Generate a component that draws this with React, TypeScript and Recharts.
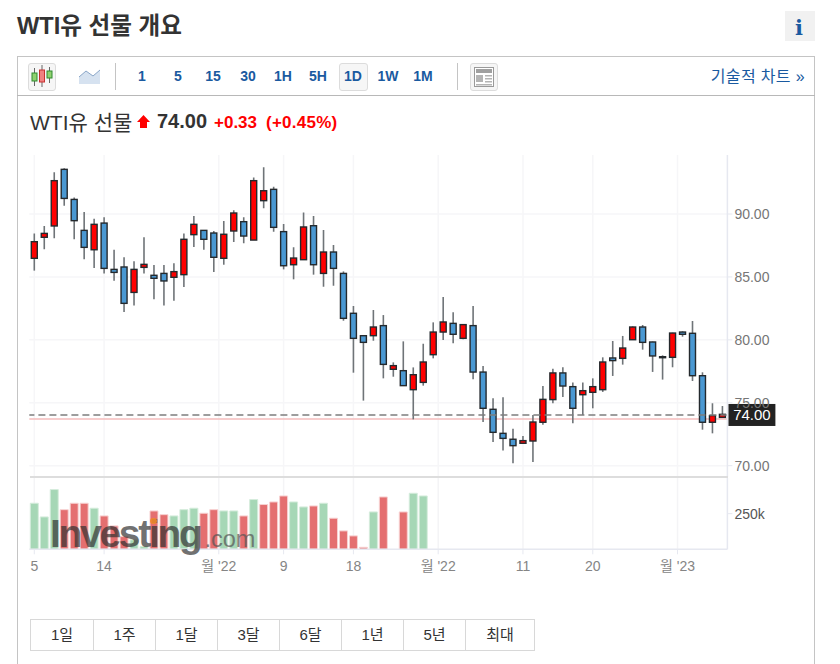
import { Bar, CartesianGrid, Cell, ComposedChart, ReferenceLine, XAxis, YAxis } from "recharts";

const FONT = '"Liberation Sans", "Noto Sans CJK KR", sans-serif';
const BLUE_TEXT = "#1a5aa0";

const highs = [
  88.46, 89.05, 93.31, 93.63, 91.32, 90.16, 89.63, 89.74, 87.16, 86.56,
  86.24, 88.15, 85.95, 85.95, 86.08, 88.46, 89.84, 88.73, 88.65, 89.44,
  90.29, 89.74, 92.91, 93.71, 92.17, 89.2, 87.35, 90.13, 89.84, 88.73,
  87.54, 85.44, 82.69, 80.36, 82.37, 81.97, 78.21, 79.88, 77.81, 79.69,
  81.39, 83.4, 82.19, 81.24, 82.69, 77.92, 75.35, 75.43, 72.94, 72.36,
  74.03, 76.33, 77.71, 77.82, 76.62, 76.62, 76.94, 78.61, 79.91, 80.31,
  81.07, 81.18, 79.86, 78.77, 80.57, 80.68, 81.5, 77.42, 74.96, 74.74,
];
const lows = [
  85.5, 87.19, 88.07, 90.66, 87.99, 86.4, 85.71, 85.28, 84.7, 82.21,
  82.73, 85.28, 83.22, 82.73, 83.11, 84.2, 87.38, 87.16, 85.39, 85.97,
  87.78, 87.67, 87.93, 90.45, 88.6, 85.6, 84.81, 86.37, 85.18, 84.22,
  84.3, 81.52, 77.39, 75.17, 79.93, 76.94, 77.07, 76.36, 73.68, 76.36,
  78.53, 79.99, 79.72, 80.04, 76.86, 73.47, 71.88, 71.2, 70.19, 71.78,
  70.3, 73.26, 74.96, 75.46, 73.37, 74.03, 74.56, 75.86, 77.13, 78.03,
  79.99, 79.22, 77.45, 76.84, 77.82, 80.25, 76.73, 72.86, 72.57, 73.84,
];
const opens = [
  86.48, 88.15, 89.05, 93.55, 91.16, 88.7, 87.16, 89.28, 85.6, 85.79,
  83.77, 85.76, 85.13, 85.28, 84.97, 85.18, 88.36, 88.7, 88.49, 86.48,
  88.65, 89.39, 87.93, 91.06, 91.96, 88.6, 85.97, 86.37, 89.07, 85.28,
  86.98, 85.28, 82.11, 80.33, 80.33, 81.13, 77.66, 77.55, 76.04, 76.62,
  78.82, 80.62, 81.31, 80.12, 81.13, 77.44, 74.48, 72.57, 72.1, 71.78,
  71.96, 73.45, 75.25, 77.37, 76.28, 75.64, 75.83, 76.04, 78.56, 78.53,
  80.01, 81.02, 79.83, 78.66, 78.61, 80.62, 80.52, 77.15, 73.45, 73.84,
];
const closes = [
  87.8, 88.46, 92.65, 91.24, 89.47, 87.35, 89.18, 85.68, 85.36, 82.9,
  85.6, 86.0, 84.89, 84.68, 85.42, 87.99, 89.18, 87.99, 86.56, 88.39,
  90.08, 88.25, 92.65, 91.85, 88.94, 85.89, 86.5, 88.97, 85.97, 86.98,
  85.68, 81.71, 80.12, 79.8, 81.02, 78.05, 77.95, 76.36, 77.23, 78.24,
  80.62, 81.42, 80.44, 81.21, 77.44, 74.56, 72.65, 72.17, 71.59, 71.99,
  73.47, 75.27, 77.37, 76.33, 74.56, 75.96, 76.28, 78.24, 78.35, 79.35,
  81.02, 79.8, 78.72, 78.61, 80.54, 80.44, 77.15, 73.45, 73.98, 74.08,
];
// only the first 40 sessions have volume in the picture
const volumes = [
  323, 227, 419, 278, 323, 323, 288, 234, 164, 89,
  66, 19, 269, 243, 234, 278, 288, 253, 278, 269,
  269, 234, 349, 314, 332, 374, 332, 297, 304, 323,
  218, 129, 94, 14, 262, 367, 0, 262, 393, 374,
];
const volumeSides = "gggrrrgrrrggrrgggrrggrgrrrggrgrrrrgr-rgg";

const priceTicks = [70, 75, 80, 85, 90];
const dateTicks = [0, 7, 18.5, 25, 32, 40.5, 49, 56, 64.5];
const dateLabels = ["5", "14", "월 '22", "9", "18", "월 '22", "11", "20", "월 '23"];
const intervals = ["1", "5", "15", "30", "1H", "5H", "1D", "1W", "1M"];
const ranges = ["1일", "1주", "1달", "3달", "6달", "1년", "5년", "최대"];

const rows = highs.map((high, i) => ({
  idx: i,
  open: opens[i],
  high,
  low: lows[i],
  close: closes[i],
  range: [lows[i], high],
  volume: volumes[i] ? volumes[i] * 1000 : null,
}));

function Candle(props: any) {
  const { x, y, width, height, payload } = props;
  const cx = x + width / 2;
  const perUnit = height / (payload.high - payload.low);
  const top = y + (payload.high - Math.max(payload.open, payload.close)) * perUnit;
  const bottom = y + (payload.high - Math.min(payload.open, payload.close)) * perUnit;
  const up = payload.close >= payload.open;
  return (
    <g>
      <line x1={cx} x2={cx} y1={y} y2={y + height} stroke="#6f7478" strokeWidth={1.6} />
      <rect
        x={cx - 3}
        y={top}
        width={6}
        height={Math.max(bottom - top, 1)}
        fill={up ? "#ff0000" : "#4a98d2"}
        stroke="#24292d"
        strokeWidth={1.4}
      />
    </g>
  );
}

function LastPriceLabel({ viewBox }: any) {
  const right = viewBox.x + viewBox.width;
  return (
    <g>
      <rect x={right + 1} y={viewBox.y - 11} width={47} height={22} fill="#222222" />
      <text x={right + 24.5} y={viewBox.y + 5} textAnchor="middle" fontSize={15} fill="#ffffff">
        74.00
      </text>
    </g>
  );
}

const PLOT_LEFT = 29.3;
const AXIS_WIDTH = 112.6;

function PriceChart() {
  return (
    <ComposedChart
      width={840}
      height={478}
      data={rows}
      margin={{ left: PLOT_LEFT, right: 0, top: 155, bottom: 1 }}
      style={{ position: "absolute", left: 0, top: 0 }}
    >
      <XAxis xAxisId="candles" dataKey="idx" type="category" hide height={0} />
      <XAxis xAxisId="dates" dataKey="idx" type="number" domain={[-0.5, 69.5]} allowDataOverflow hide height={0} />
      <YAxis
        yAxisId="price"
        orientation="right"
        width={AXIS_WIDTH}
        domain={[69.1, 94.69]}
        allowDataOverflow
        ticks={priceTicks}
        tickFormatter={(v: number) => v.toFixed(2)}
        tick={{ fontSize: 14, fill: "#767676" }}
        tickSize={5}
        tickMargin={2}
        axisLine={{ stroke: "#e6e8f0", strokeWidth: 1.5 }}
        tickLine={{ stroke: "#e6e8f0" }}
      />
      <CartesianGrid
        xAxisId="dates"
        yAxisId="price"
        horizontalValues={priceTicks}
        verticalValues={dateTicks}
        stroke="#f6f6f8"
        strokeWidth={1.5}
      />
      <ReferenceLine xAxisId="dates" yAxisId="price" y={73.71} stroke="#f5bcbc" strokeWidth={1.5} zIndex={-1} />
      <Bar
        xAxisId="candles"
        yAxisId="price"
        dataKey="range"
        shape={Candle}
        isAnimationActive={false}
      />
      <ReferenceLine
        xAxisId="dates"
        yAxisId="price"
        y={74.03}
        stroke="#7d7d7d"
        strokeWidth={1.5}
        strokeDasharray="7 4"
        label={<LastPriceLabel />}
      />
    </ComposedChart>
  );
}

function VolumeChart() {
  return (
    <ComposedChart
      width={840}
      height={110}
      data={rows}
      margin={{ left: PLOT_LEFT, right: 0, top: 0, bottom: 0 }}
      style={{ position: "absolute", left: 0, top: 478 }}
    >
      <XAxis xAxisId="candles" dataKey="idx" type="category" hide height={0} />
      <XAxis
        xAxisId="dates"
        dataKey="idx"
        type="number"
        domain={[-0.5, 69.5]}
        allowDataOverflow
        ticks={dateTicks}
        interval={0}
        height={38.7}
        tickFormatter={(v: number) => dateLabels[dateTicks.indexOf(v)]}
        tick={{ fontSize: 14, fill: "#858585" }}
        tickSize={5}
        tickMargin={7}
        axisLine={{ stroke: "#e6e8f0", strokeWidth: 1.5 }}
        tickLine={{ stroke: "#e6e8f0" }}
      />
      <YAxis
        yAxisId="vol"
        orientation="right"
        width={AXIS_WIDTH}
        domain={[0, 500000]}
        ticks={[250000]}
        tickFormatter={(v: number) => `${v / 1000}k`}
        tick={{ fontSize: 14, fill: "#555555" }}
        tickSize={5}
        tickMargin={2}
        axisLine={{ stroke: "#e6e8f0", strokeWidth: 1.5 }}
        tickLine={{ stroke: "#e6e8f0" }}
      />
      <CartesianGrid
        xAxisId="dates"
        yAxisId="vol"
        horizontal={false}
        verticalValues={dateTicks}
        stroke="#f4f4f6"
        strokeWidth={1.5}
      />
      <Bar xAxisId="candles" yAxisId="vol" dataKey="volume" barSize={8} isAnimationActive={false}>
        {rows.map((_, i) => (
          <Cell
            key={i}
            fill={volumeSides[i] === "r" ? "#e46f70" : "#a6d7b6"}
            stroke={volumeSides[i] === "r" ? "#f7d2d2" : "#d5ecdc"}
            strokeWidth={1}
          />
        ))}
      </Bar>
    </ComposedChart>
  );
}

function Box({ x, y, w, h, style, children }: any) {
  return (
    <div style={{ position: "absolute", left: x, top: y, width: w, height: h, ...style }}>{children}</div>
  );
}

function Centered({ cx, cy, style, children }: any) {
  return (
    <div style={{ position: "absolute", left: cx, top: cy, transform: "translate(-50%,-50%)", whiteSpace: "nowrap", ...style }}>
      {children}
    </div>
  );
}

function Toolbar() {
  const centers = [142, 178, 213, 248, 283, 318, 353, 388, 423];
  return (
    <>
      <Box x={28} y={63} w={26} h={26} style={{ border: "1px solid #dcdcdc", borderRadius: 3, background: "#f6f6f6" }} />
      <svg width={28} height={28} style={{ position: "absolute", left: 28, top: 62 }}>
        <line x1={6.5} x2={6.5} y1={6} y2={24} stroke="#666" />
        <rect x={4} y={11} width={5} height={8} fill="#8fd06f" stroke="#2f8a2f" />
        <line x1={14} x2={14} y1={3} y2={25} stroke="#666" />
        <rect x={11.5} y={8} width={5} height={12} fill="#f08080" stroke="#c83030" />
        <line x1={21.5} x2={21.5} y1={5} y2={21} stroke="#666" />
        <rect x={19} y={9} width={5} height={7} fill="#8fd06f" stroke="#2f8a2f" />
      </svg>
      <svg width={24} height={18} style={{ position: "absolute", left: 78, top: 67 }}>
        <polygon points="1,10 8,4 15,9 22,3 22,17 1,17" fill="#d6e2f0" />
        <polyline points="1,10 8,4 15,9 22,3" fill="none" stroke="#8aa6c8" />
      </svg>
      <Box x={115} y={63} w={1} h={27} style={{ background: "#c4c4c4" }} />
      <Box x={339} y={63} w={27} h={26} style={{ border: "1px solid #dcdcdc", borderRadius: 3, background: "#f6f6f6" }} />
      {intervals.map((label, i) => (
        <Centered key={label} cx={centers[i]} cy={76} style={{ fontSize: 14, fontWeight: 700, color: BLUE_TEXT }}>
          {label}
        </Centered>
      ))}
      <Box x={457} y={63} w={1} h={27} style={{ background: "#c4c4c4" }} />
      <Box x={470} y={63} w={26} h={26} style={{ border: "1px solid #dcdcdc", borderRadius: 3, background: "#f6f6f6" }} />
      <svg width={20} height={20} style={{ position: "absolute", left: 474, top: 67 }}>
        <rect x={0.5} y={0.5} width={19} height={19} fill="#fff" stroke="#9a9a9a" />
        <rect x={2} y={2} width={16} height={4} fill="#a0a0a0" />
        <rect x={2} y={8} width={7} height={7} fill="#b4b4b4" />
        <rect x={11} y={8} width={7} height={1.5} fill="#b4b4b4" />
        <rect x={11} y={11} width={7} height={1.5} fill="#b4b4b4" />
        <rect x={11} y={14} width={7} height={1.5} fill="#b4b4b4" />
        <rect x={2} y={17} width={16} height={1.5} fill="#b4b4b4" />
      </svg>
      <div style={{ position: "absolute", right: 35, top: 63, fontSize: 16, color: BLUE_TEXT, whiteSpace: "nowrap", letterSpacing: 0.35 }}>
        기술적 차트 »
      </div>
    </>
  );
}

function Header() {
  return (
    <>
      <div style={{ position: "absolute", left: 17, top: 7, fontSize: 23.6, fontWeight: 700, color: "#333", whiteSpace: "nowrap" }}>
        WTI유 선물 개요
      </div>
      <Box x={785} y={11} w={30} h={30} style={{ background: "#f1f1f1" }} />
      <Centered cx={799} cy={27} style={{ fontSize: 21, fontWeight: 700, color: BLUE_TEXT, fontFamily: '"DejaVu Serif", serif' }}>
        i
      </Centered>
      <Box x={17} y={56} w={1} h={608} style={{ background: "#c4c4c4" }} />
      <Box x={814} y={56} w={1} h={608} style={{ background: "#c4c4c4" }} />
      <Box x={17} y={56} w={798} h={1} style={{ background: "#c4c4c4" }} />
      <Box x={17} y={95} w={798} h={1} style={{ background: "#b8b8b8" }} />
      <Toolbar />
      <div style={{ position: "absolute", left: 30, top: 106, fontSize: 21, color: "#333", whiteSpace: "nowrap" }}>WTI유 선물</div>
      <svg width={14} height={14} style={{ position: "absolute", left: 137, top: 115 }}>
        <polygon points="6.5,0 13,7 10,7 10,13 3,13 3,7 0,7" fill="#ff0000" />
      </svg>
      <div style={{ position: "absolute", left: 157, top: 110, fontSize: 20, fontWeight: 700, color: "#333" }}>74.00</div>
      <div style={{ position: "absolute", left: 214, top: 113, fontSize: 17, fontWeight: 700, color: "#ff0000" }}>+0.33</div>
      <div style={{ position: "absolute", left: 266, top: 113, fontSize: 17, fontWeight: 700, color: "#ff0000", letterSpacing: 0.25 }}>(+0.45%)</div>
    </>
  );
}

function RangeButtons() {
  const edges = [30, 93, 155, 217, 279, 341, 403, 465, 534];
  return (
    <>
      {ranges.map((label, i) => (
        <div
          key={label}
          style={{
            position: "absolute",
            left: edges[i],
            top: 619,
            width: edges[i + 1] - edges[i] + 1,
            height: 32,
            boxSizing: "border-box",
            border: "1px solid #d8d8d8",
            textAlign: "center",
            lineHeight: "29px",
            fontSize: 15,
            color: "#333",
          }}
        >
          {label}
        </div>
      ))}
    </>
  );
}

function Watermark() {
  return (
    <div style={{ position: "absolute", left: 50, top: 512, whiteSpace: "nowrap", pointerEvents: "none", height: 44 }}>
      <span style={{ fontSize: 39, fontWeight: 700, letterSpacing: -2.3, color: "#2f2f2f", opacity: 0.68 }}>Investing</span>
      <span style={{ fontSize: 23.5, color: "#555", opacity: 0.7, marginLeft: 4 }}>.com</span>
      <div style={{ position: "absolute", left: 100, top: 6, width: 7, height: 6, borderRadius: 3, background: "#f08a2c", opacity: 0.9 }} />
    </div>
  );
}

export default function App() {
  return (
    <div style={{ position: "fixed", left: 0, top: 0, width: 840, height: 664, overflow: "hidden", background: "#fff", fontFamily: FONT }}>
      <Header />
      <PriceChart />
      <VolumeChart />
      <Box x={30} y={476} w={698} h={2} style={{ background: "#dddddd" }} />
      <Watermark />
      <RangeButtons />
    </div>
  );
}
